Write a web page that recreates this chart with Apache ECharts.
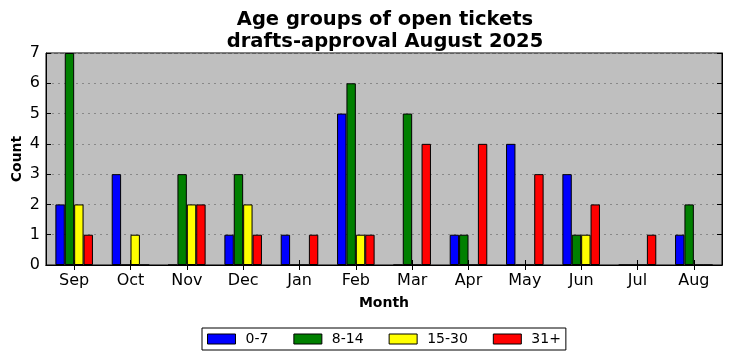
<!DOCTYPE html>
<html><head><meta charset="utf-8">
<script src="https://cdn.jsdelivr.net/npm/echarts@6/dist/echarts.min.js"></script>
<style>html,body{margin:0;padding:0;background:#fff}#c{width:732px;height:361px}</style>
</head><body><div id="c"></div>
<script>
const months = ['Sep','Oct','Nov','Dec','Jan','Feb','Mar','Apr','May','Jun','Jul','Aug'];
const s0_7   = [2,3,0,1,1,5,0,1,4,3,0,1];
const s8_14  = [7,0,3,3,0,6,5,1,0,1,0,2];
const s15_30 = [2,1,2,2,0,1,0,0,0,1,0,0];
const s31    = [1,0,2,1,1,1,4,4,3,2,1,0];
const yTicks = [0,1,2,3,4,5,6,7];
const seriesNames = ['0-7','8-14','15-30','31+'];
const seriesColors = ['#0000ff','#008000','#ffff00','#ff0000'];
const seriesData = [s0_7, s8_14, s15_30, s31];

const font = 'DejaVu Sans';
const chart = echarts.init(document.getElementById('c'));
chart.setOption({
  animation: false,
  textStyle: {fontFamily: font},
  title: {
    text: 'Age groups of open tickets\ndrafts-approval August 2025',
    left: 380, top: 4, textAlign: 'center',
    textStyle: {fontFamily: font, fontSize: 19.5, fontWeight: 'bold', color: '#000', lineHeight: 22}
  },
  legend: {
    bottom: 11, left: 202,
    data: seriesNames,
    icon: 'rect',
    itemWidth: 28, itemHeight: 10, itemGap: 25,
    borderColor: '#000', borderWidth: 1, borderRadius: 0,
    padding: [4, 5, 4, 5],
    textStyle: {fontFamily: font, fontSize: 14, color: '#000', padding: [0, 0, 0, 5]},
    itemStyle: {borderColor: '#000', borderWidth: 1}
  },
  grid: {
    left: 46, right: 10, top: 53, bottom: 96,
    outerBoundsMode: 'none', containLabel: false,
    show: true, backgroundColor: '#bfbfbf', borderColor: '#000', borderWidth: 1
  },
  xAxis: [{
    type: 'category', data: months, position: 'bottom',
    name: 'Month', nameLocation: 'middle', nameGap: 31,
    nameTextStyle: {fontFamily: font, fontSize: 14, fontWeight: 'bold', color: '#000'},
    axisLine: {show: true, lineStyle: {color: '#000'}},
    axisTick: {show: true, inside: true, alignWithLabel: true, length: 5, lineStyle: {color: '#000'}},
    axisLabel: {fontFamily: font, fontSize: 16, color: '#000', margin: 8},
    splitLine: {show: false}
  }, {
    type: 'category', data: months, position: 'top',
    axisLine: {show: true, lineStyle: {color: '#000'}},
    axisTick: {show: true, inside: true, alignWithLabel: true, length: 5, lineStyle: {color: '#000'}},
    axisLabel: {show: false}, splitLine: {show: false}
  }],
  yAxis: [{
    type: 'value', min: 0, max: 7, interval: 1, position: 'left',
    name: 'Count', nameLocation: 'middle', nameGap: 22, nameMoveOverlap: false,
    nameTextStyle: {fontFamily: font, fontSize: 14, fontWeight: 'bold', color: '#000'},
    axisLine: {show: true, lineStyle: {color: '#000'}},
    axisTick: {show: true, inside: true, length: 5, lineStyle: {color: '#000'}},
    axisLabel: {fontFamily: font, fontSize: 16, color: '#000', margin: 6,
      formatter: v => yTicks.includes(v) ? String(v) : ''},
    splitLine: {show: true, lineStyle: {color: '#888', type: [2, 4], width: 1}}
  }, {
    type: 'value', min: 0, max: 7, interval: 1, position: 'right',
    axisLine: {show: true, lineStyle: {color: '#000'}},
    axisTick: {show: true, inside: true, length: 5, lineStyle: {color: '#000'}},
    axisLabel: {show: false}, splitLine: {show: false}
  }],
  series: seriesNames.map((n, i) => ({
    name: n, type: 'bar', data: seriesData[i],
    xAxisIndex: 0, yAxisIndex: 0,
    barWidth: '16.67%', barGap: '0%',
    itemStyle: {color: seriesColors[i], borderColor: '#000', borderWidth: 1}
  }))
});
</script></body></html>
